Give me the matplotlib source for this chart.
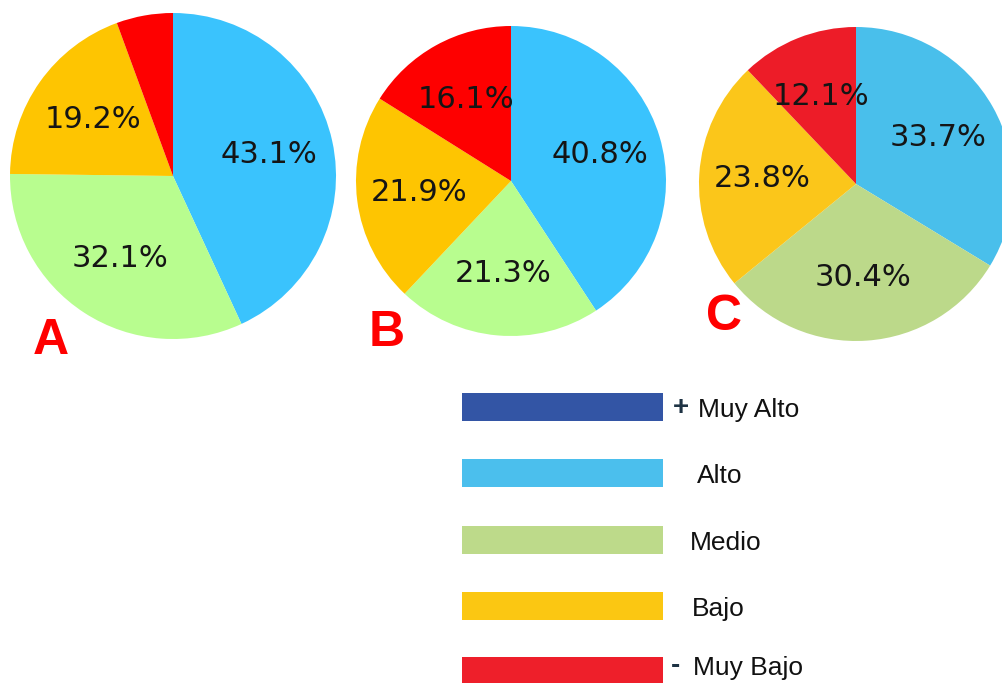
import matplotlib.pyplot as plt
from matplotlib.patches import Rectangle

# data
groups = ["A", "B", "C"]
levels = ["Alto", "Medio", "Bajo", "Muy Bajo"]
values_a = [43.1, 32.1, 19.2, 5.6]
values_b = [40.8, 21.3, 21.9, 16.1]
values_c = [33.7, 30.4, 23.8, 12.1]

colors_ab = ["#3ac3fd", "#b8fd8f", "#fec501", "#fe0000"]
colors_c = ["#49bfeb", "#bcd98a", "#fbc61a", "#ed1c28"]

legend_labels = ["Muy Alto", "Alto", "Medio", "Bajo", "Muy Bajo"]
legend_signs = ["+", "", "", "", "-"]
legend_colors = ["#3355a5", "#4bbfed", "#bdda8a", "#fbc712", "#ee1f2a"]

W, H = 1003, 683
fig = plt.figure(figsize=(W / 100, H / 100), dpi=100)

# pie placement in pixels: (center x, center y from top, radius), letter pos
pies = [
    (values_a, colors_ab, (173, 176, 163), (33, 341)),
    (values_b, colors_ab, (511, 181, 155), (369, 333)),
    (values_c, colors_c, (856, 184, 157), (706, 317)),
]


def pct_label(p):
    return f"{p:.1f}%" if p > 8 else ""


for name, (vals, cols, (cx, cy, r), (lx, ly)) in zip(groups, pies):
    ax = fig.add_axes([(cx - r) / W, (H - cy - r) / H, 2 * r / W, 2 * r / H])
    ax.pie(vals, colors=cols, startangle=90, counterclock=False,
           autopct=pct_label, pctdistance=0.6,
           textprops=dict(fontsize=22, color="#151515"),
           wedgeprops=dict(linewidth=0))
    ax.set_xlim(-1, 1)
    ax.set_ylim(-1, 1)
    ax.set_aspect("equal")
    ax.axis("off")
    fig.text(lx / W, 1 - ly / H, name, fontsize=36, fontweight="bold",
             color="#ff0000", family="Liberation Sans", ha="left", va="center")

# legend drawn in pixel space
lax = fig.add_axes([0, 0, 1, 1], zorder=-1)
lax.set_xlim(0, W)
lax.set_ylim(H, 0)
lax.axis("off")
row_y = [407, 473, 540, 606, 671]
text_y = [410, 476, 543, 609, 668]
text_x = [698, 697, 690, 692, 693]
for y, ty, tx, lab, sign, col in zip(row_y, text_y, text_x, legend_labels,
                                     legend_signs, legend_colors):
    lax.add_patch(Rectangle((462, y - 14), 201, 28, color=col, linewidth=0))
    lax.text(tx, ty, lab, fontsize=19, family="Liberation Sans",
             ha="left", va="center", color="#111111")
    if sign:
        lax.text(tx - 17, ty - 2, sign, fontsize=20, fontweight="bold",
                 family="Liberation Sans", ha="center", va="center",
                 color="#1e3344")

fig.savefig("out.png", dpi=100)
